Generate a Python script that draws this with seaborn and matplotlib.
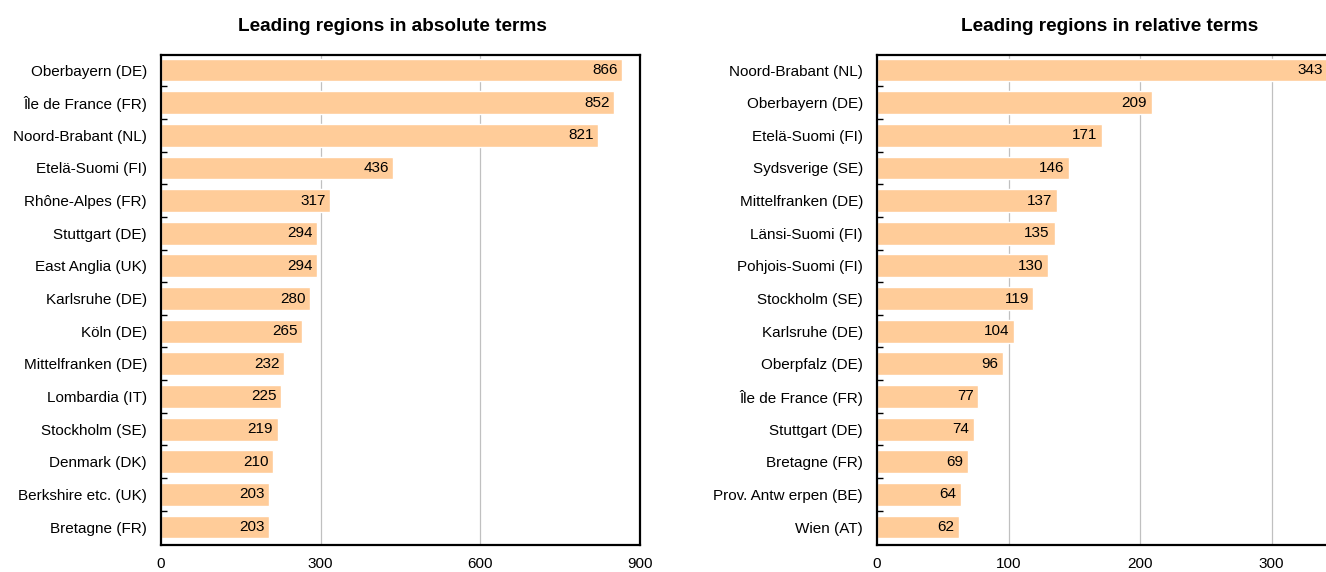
"""
plot.py
Leading regions — absolute vs relative terms (horizontal bar charts).
"""

import numpy as np
import pandas as pd
import matplotlib
import matplotlib.pyplot as plt
import seaborn as sns

# ── Data ──────────────────────────────────────────────────────────────────────
abs_regions = ['Oberbayern (DE)', 'Île de France (FR)', 'Noord-Brabant (NL)',
               'Etelä-Suomi (FI)', 'Rhône-Alpes (FR)', 'Stuttgart (DE)',
               'East Anglia (UK)', 'Karlsruhe (DE)', 'Köln (DE)',
               'Mittelfranken (DE)', 'Lombardia (IT)', 'Stockholm (SE)',
               'Denmark (DK)', 'Berkshire etc. (UK)', 'Bretagne (FR)']
abs_values = [866, 852, 821, 436, 317, 294, 294, 280, 265, 232, 225, 219, 210, 203, 203]

rel_regions = ['Noord-Brabant (NL)', 'Oberbayern (DE)', 'Etelä-Suomi (FI)',
               'Sydsverige (SE)', 'Mittelfranken (DE)', 'Länsi-Suomi (FI)',
               'Pohjois-Suomi (FI)', 'Stockholm (SE)', 'Karlsruhe (DE)',
               'Oberpfalz (DE)', 'Île de France (FR)', 'Stuttgart (DE)',
               'Bretagne (FR)', 'Prov. Antw erpen (BE)', 'Wien (AT)']
rel_values = [343, 209, 171, 146, 137, 135, 130, 119, 104, 96, 77, 74, 69, 64, 62]

abs_ticks = [0, 300, 600, 900]
rel_ticks = [0, 100, 200, 300]

BAR_COLOR = '#FFCC99'

# ── Style ─────────────────────────────────────────────────────────────────────
sns.set_style('white')
matplotlib.rcParams.update({
    'font.family': ['Liberation Sans', 'DejaVu Sans'],
    'font.size':   11,
    'text.color':  'black',
    'xtick.color': 'black',
    'ytick.color': 'black',
    'axes.labelcolor': 'black',
})

fig = plt.figure(figsize=(13.26, 5.72), dpi=100)
W, H = 1326, 572


def panel(rect_px, regions, values, ticks, xmax, title, title_x):
    x0, y0, x1, y1 = rect_px
    ax = fig.add_axes([x0 / W, 1 - y1 / H, (x1 - x0) / W, (y1 - y0) / H])
    df = pd.DataFrame({'Region': regions, 'Value': values})
    sns.barplot(data=df, x='Value', y='Region', orient='h', color=BAR_COLOR,
                width=0.7, saturation=1, ax=ax)
    for p, v in zip(ax.patches, values):
        p.set_zorder(3)
        ax.text(p.get_width() - xmax * 0.009, p.get_y() + p.get_height() / 2,
                f'{v}', ha='right', va='center', fontsize=11, zorder=4)
    ax.set_xlim(0, xmax)
    ax.set_ylim(len(regions) - 0.45, -0.46)
    ax.set_xticks(ticks)
    ax.set_xlabel('')
    ax.set_ylabel('')
    ax.set_title(title, fontsize=13.7, fontweight='bold', pad=17, x=title_x)
    for t in ticks[1:]:
        if t < xmax:
            ax.axvline(t, color='#c0c0c0', linewidth=0.9, zorder=1)
    ax.tick_params(axis='x', length=0, pad=9, labelsize=11)
    ax.tick_params(axis='y', which='major', length=0, pad=10, labelsize=11)
    ax.set_yticks(np.arange(len(regions) - 1) + 0.5, minor=True)
    ax.tick_params(axis='y', which='minor', left=True, direction='in',
                   length=4, width=1, color='black')
    for side in ['top', 'bottom', 'left', 'right']:
        ax.spines[side].set_visible(True)
        ax.spines[side].set_color('black')
        ax.spines[side].set_linewidth(1.6)
        ax.spines[side].set_zorder(5)
    return ax


panel((161, 55, 640, 545), abs_regions, abs_values, abs_ticks, 900,
      'Leading regions in absolute terms', 0.484)
# the right-hand panel runs past the figure edge, as in the source
panel((877, 55, 1403, 545), rel_regions, rel_values, rel_ticks, 400,
      'Leading regions in relative terms', 0.443)

fig.savefig('out.png', dpi=100)
